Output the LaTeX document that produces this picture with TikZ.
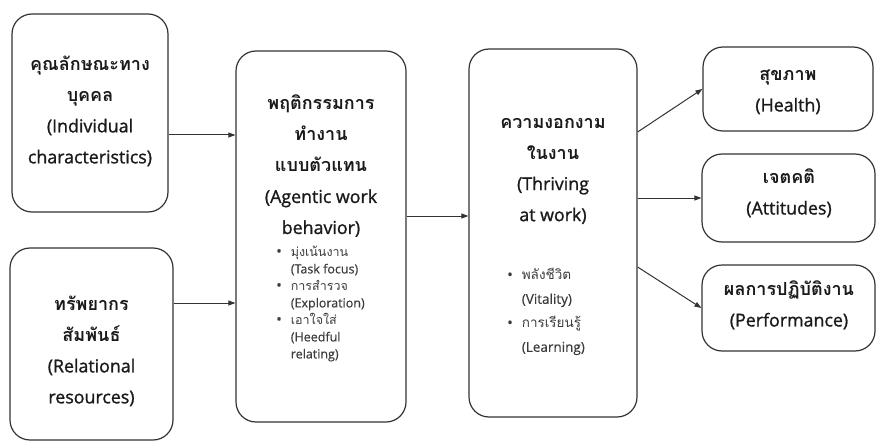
\documentclass[tikz,border=0pt]{standalone}
\usepackage{fontspec}
\setmainfont{Open Sans}
\newfontfamily\engb[FakeBold=1.2]{Open Sans}
\newfontfamily\engs[FakeBold=0.4]{Open Sans}
\newfontfamily\thai[Script=Thai]{Loma}
\usetikzlibrary{arrows.meta}
\definecolor{lineC}{HTML}{333333}
\definecolor{txtC}{HTML}{1A1A1A}
\definecolor{subC}{HTML}{3C3C3C}
\tikzset{
  box/.style={draw=lineC, line width=1.2pt, rounded corners=20pt, inner sep=0pt},
  arr/.style={draw=lineC, line width=1pt, -{Triangle[length=7pt,width=5pt]}},
  head/.style={align=center, text=txtC, inner sep=0pt, font=\engb\fontsize{17.8}{31}\selectfont},
  small/.style={text=subC, inner sep=0pt, anchor=west},
}
\newcommand{\thb}[1]{{\thai\bfseries\fontsize{18}{31}\selectfont #1}}
\newcommand{\thr}[1]{{\thai #1}}
\newcommand{\bul}{{\fontsize{15}{15}\selectfont\textbullet}}
\begin{document}
\begin{tikzpicture}[x=1pt,y=-1pt]
\useasboundingbox (0,0) rectangle (878,441);
% boxes
\node[box, minimum width=156pt, minimum height=198pt] (ind) at (90,113) {};
\node[box, minimum width=163pt, minimum height=192pt] (rel) at (91.5,344) {};
\node[box, minimum width=170pt, minimum height=371pt] (agw) at (321,236.5) {};
\node[box, minimum width=168pt, minimum height=368pt] (thr) at (553,233) {};
\node[box, minimum width=170pt, minimum height=84pt] (hea) at (788,89) {};
\node[box, minimum width=173pt, minimum height=88pt] (att) at (788.5,198) {};
\node[box, minimum width=173pt, minimum height=86pt] (per) at (788.5,308) {};
% texts
\node[head] (indt) at (90,111) {\thb{คุณลักษณะทาง}\\\thb{บุคคล}\\(Individual\\characteristics)};
\node[head] (relt) at (91.5,351) {\thb{ทรัพยากร}\\\thb{สัมพันธ์}\\(Relational\\resources)};
\node[head] (agwt) at (321,166) {\thb{พฤติกรรมการ}\\\thb{ทำงาน}\\\thb{แบบตัวแทน}\\(Agentic work\\behavior)};
\node[head] (thrt) at (553,171) {\thb{ความงอกงาม}\\\thb{ในงาน}\\(Thriving\\at work)};
\node[head] (heat) at (788,92) {\thb{สุขภาพ}\\(Health)};
\node[head] (attt) at (789,193) {\thb{เจตคติ}\\(Attitudes)};
\node[head] (pert) at (789,305) {\thb{ผลการปฏิบัติงาน}\\(Performance)};
% bullet lists
\node[small, font=\engs\fontsize{12.5}{17}\selectfont] (agwl) at (276,304) {%
\begin{tabular}{@{}l@{\hspace{9pt}}l@{}}
\bul & \thr{มุ่งเน้นงาน}\\
  & (Task focus)\\
\bul & \thr{การสำรวจ}\\
  & (Exploration)\\
\bul & \thr{เอาใจใส่}\\
  & (Heedful\\
  & relating)
\end{tabular}};
\node[small, font=\engs\fontsize{13.5}{24}\selectfont] (thrl) at (507,311) {%
\begin{tabular}{@{}l@{\hspace{9pt}}l@{}}
\bul & \thr{พลังชีวิต}\\
  & (Vitality)\\
\bul & \thr{การเรียนรู้}\\
  & (Learning)
\end{tabular}};
% connectors
\draw[arr] (ind.east |- 0,135) -- (agw.west |- 0,135);
\draw[arr] (rel.east |- 0,303) -- (agw.west |- 0,303);
\draw[arr] (agw.east |- 0,216) -- (thr.west |- 0,216);
\draw[arr] (thr.east |- 0,132) -- (hea.west);
\draw[arr] (thr.east |- 0,198) -- (att.west);
\draw[arr] (thr.east |- 0,267) -- (per.west);
\end{tikzpicture}
\end{document}
